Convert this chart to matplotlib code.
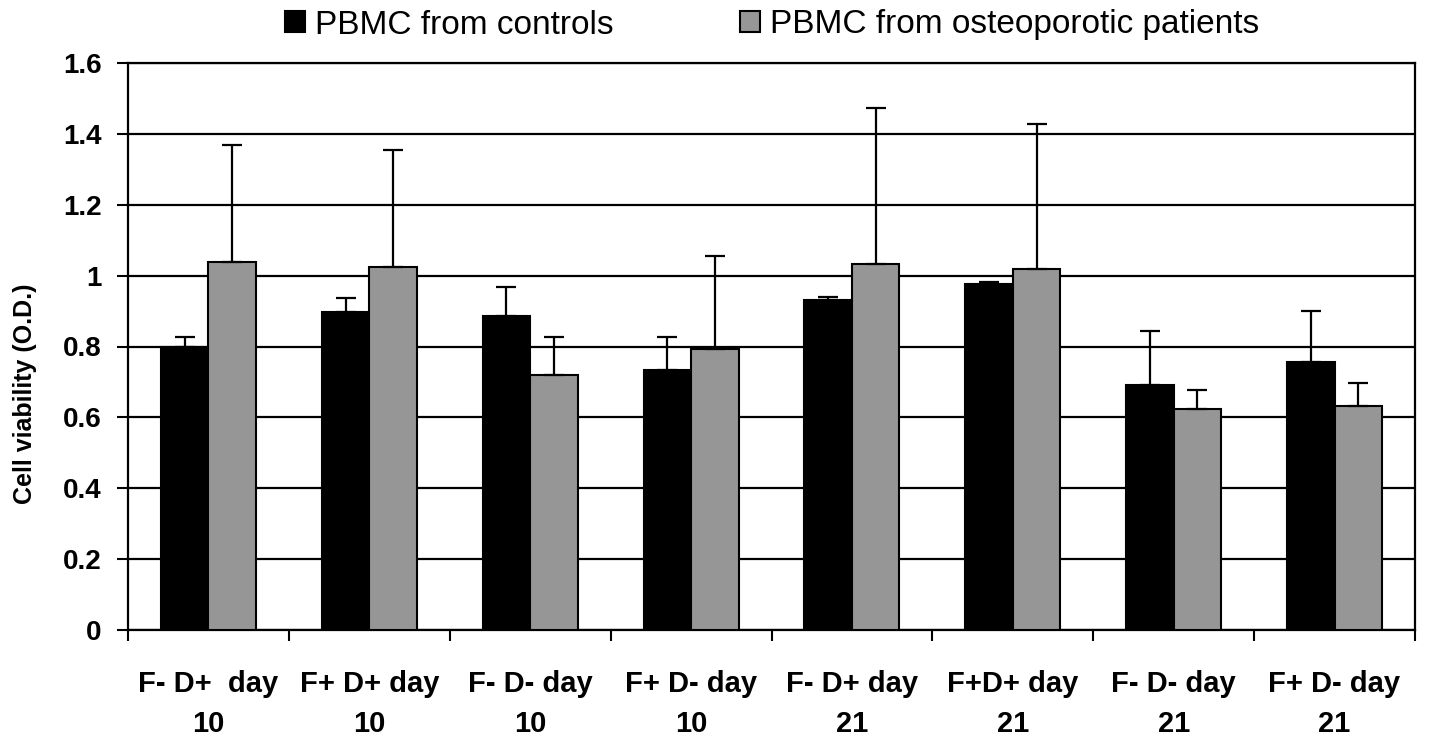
import numpy as np
import matplotlib
matplotlib.use('Agg')
import matplotlib.pyplot as plt
from matplotlib.ticker import FixedLocator, FormatStrFormatter

plt.rcParams['font.family'] = ['Liberation Sans', 'DejaVu Sans']

categories = ['F- D+  day\n10', 'F+ D+ day\n10', 'F- D- day\n10', 'F+ D- day\n10',
              'F- D+ day\n21', 'F+D+ day\n21', 'F- D- day\n21', 'F+ D- day\n21']
controls = [0.800, 0.896, 0.887, 0.734, 0.931, 0.976, 0.691, 0.755]
controls_err = [0.028, 0.042, 0.080, 0.094, 0.008, 0.006, 0.152, 0.145]
patients = [1.039, 1.025, 0.720, 0.792, 1.033, 1.018, 0.625, 0.632]
patients_err = [0.330, 0.329, 0.108, 0.263, 0.440, 0.410, 0.051, 0.066]
yticks = [0, 0.2, 0.4, 0.6, 0.8, 1.0, 1.2, 1.4, 1.6]

fig = plt.figure(figsize=(14.29, 7.40), dpi=100)
ax = fig.add_axes([128 / 1429, 1 - 630 / 740, 1287 / 1429, 567 / 740])

x = np.arange(len(categories))
w = 0.295
err_kw = dict(ecolor='black', elinewidth=1.6, capsize=7, capthick=1.6)
b1 = ax.bar(x - w / 2, controls, w, color='black', edgecolor='black', linewidth=1.5,
            yerr=[np.zeros(len(x)), controls_err], error_kw=err_kw, zorder=3,
            label='PBMC from controls')
b2 = ax.bar(x + w / 2, patients, w, color='#969696', edgecolor='black', linewidth=1.5,
            yerr=[np.zeros(len(x)), patients_err], error_kw=err_kw, zorder=3,
            label='PBMC from osteoporotic patients')

ax.set_xlim(-0.5, len(x) - 0.5)
ax.set_ylim(0, 1.6)
ax.yaxis.set_major_locator(FixedLocator(yticks))
ax.yaxis.set_major_formatter(FormatStrFormatter('%g'))
ax.grid(axis='y', color='black', linewidth=1.6, zorder=0)
ax.set_axisbelow(True)

# ticks at category boundaries, labels at centres
ax.set_xticks(np.arange(len(x) + 1) - 0.5)
ax.set_xticklabels([])
ax.set_xticks(x, minor=True)
ax.set_xticklabels(categories, minor=True, fontsize=21, fontweight='bold', linespacing=1.55)
ax.tick_params(axis='x', which='major', direction='out', length=8, width=1.5)
ax.tick_params(axis='x', which='minor', length=0, pad=29)
ax.tick_params(axis='y', direction='out', length=8, width=1.5, pad=11, labelsize=20)
for t in ax.get_yticklabels():
    t.set_fontweight('bold')

for s in ax.spines.values():
    s.set_linewidth(1.6)
    s.set_color('black')

ax.set_ylabel('Cell viability (O.D.)', fontsize=18, fontweight='bold')
ax.yaxis.set_label_coords(-0.071, 0.416)

fig.legend(handles=[b1, b2], loc='center', bbox_to_anchor=(772 / 1429, 1 - 25 / 740),
           ncol=2, frameon=False, fontsize=24, handlelength=0.6, handleheight=0.6,
           handletextpad=0.3, columnspacing=3.8)

fig.savefig('out.png', dpi=100)
